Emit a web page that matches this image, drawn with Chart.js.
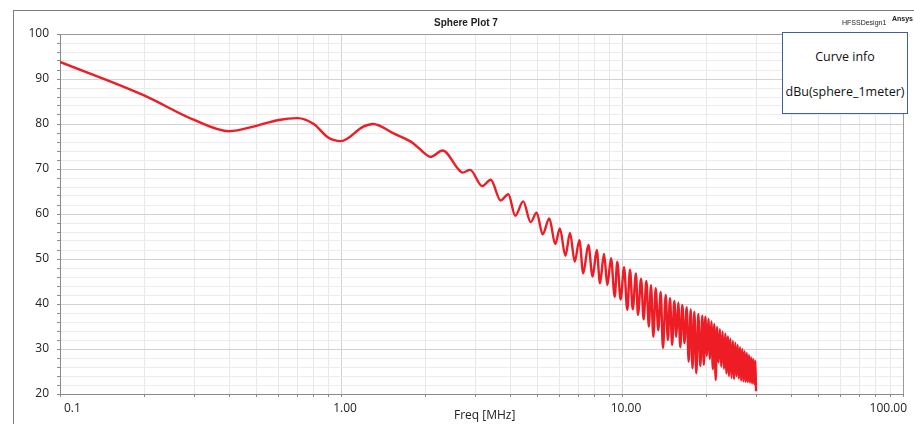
<!DOCTYPE html>
<html>
<head>
<meta charset="utf-8">
<script src="https://cdn.jsdelivr.net/npm/chart.js@4"></script>
<style>
  html, body { margin: 0; padding: 0; background: #fff; overflow: hidden; }
  #wrap { position: relative; width: 914px; height: 424px; }
  #frame { position: absolute; left: 13px; top: 10px; width: 920px; height: 430px;
           border-top: 1px solid #7f7f7f; border-left: 1px solid #7f7f7f; }
  canvas { position: absolute; left: 0; top: 0; }
  .txt { position: absolute; white-space: nowrap; color: #222; }
  #legendBox { position: absolute; left: 782px; top: 32px; width: 124px; height: 80px;
               border: 1px solid #3f5f9f; background: #fff; font-family: "Open Sans", sans-serif;
               font-size: 12.5px; color: #111; text-align: center; }
</style>
</head>
<body>
<div id="wrap">
  <div id="frame"></div>
  <canvas id="chart" width="914" height="424"></canvas>
  <div class="txt" style="left:434px; top:17px; font:bold 10px 'Liberation Sans', Arial, sans-serif;">Sphere Plot 7</div>
  <div class="txt" style="left:842px; top:19px; font:7px 'Liberation Sans', Arial, sans-serif;">HFSSDesign1</div>
  <div class="txt" style="left:892px; top:15px; font:bold 7px 'Liberation Sans', Arial, sans-serif;">Ansys</div>
  <div id="legendBox">
    <div style="position:absolute; left:0; right:0; top:15px;">Curve info</div>
    <div style="position:absolute; left:0; right:0; top:50px;">dBu(sphere_1meter)</div>
  </div>
  <div class="txt" style="left:454px; top:406px; font:12px 'Open Sans', sans-serif;">Freq [MHz]</div>
</div>
<script>
// === Data ===
const freqMHz = [
  0.1, 0.2, 0.3, 0.4, 0.5, 0.6, 0.7, 0.8, 0.9, 1.0,
  1.2, 1.3, 1.55, 1.8, 2.0, 2.08, 2.3, 2.62, 2.71, 2.88,
  3.18, 3.41, 3.70, 3.94, 4.17, 4.45, 4.73, 4.97, 5.22, 5.51,
  5.79, 6.01, 6.29, 6.53, 6.79, 7.05, 7.28, 7.59, 7.86, 8.13,
  8.35, 8.63, 8.87, 9.14, 9.42, 9.62, 9.89, 10.17, 10.44, 10.68,
  10.92, 11.21, 11.40, 11.69, 11.94, 12.21, 12.46, 12.68, 12.93, 13.18,
  13.46, 13.73, 13.99, 14.31, 14.56, 14.82, 15.08, 15.35, 15.60, 15.86,
  16.12, 16.39, 16.68, 16.99, 17.27, 17.56, 17.82, 18.09, 18.38, 18.69,
  19.00, 19.31, 19.55, 19.80, 20.05, 20.30, 20.55, 20.80, 21.05, 21.30,
  21.55, 21.80, 22.05, 22.30, 22.55, 22.80, 23.05, 23.30, 23.55, 23.80,
  24.05, 24.30, 24.55, 24.80, 25.05, 25.30, 25.55, 25.80, 26.05, 26.30,
  26.55, 26.80, 27.05, 27.30, 27.55, 27.80, 28.05, 28.30, 28.55, 28.80,
  29.05, 29.30, 29.55, 29.80, 30.00
];
const dBu = [
  93.8, 86.3, 80.9, 78.4, 79.6, 80.9, 81.3, 80.0, 77.0, 76.2,
  79.4, 80.0, 77.8, 75.8, 73.3, 72.7, 74.1, 69.9, 69.2, 69.8,
  66.2, 67.6, 63.0, 64.4, 59.6, 62.8, 58.2, 60.3, 55.5, 59.0,
  53.3, 56.8, 50.7, 55.8, 49.4, 54.2, 46.8, 53.1, 46.1, 52.0,
  44.6, 51.1, 44.2, 50.2, 41.6, 49.4, 41.0, 48.2, 38.7, 47.6,
  38.8, 46.8, 37.6, 45.6, 36.6, 45.1, 35.0, 44.2, 32.7, 43.5,
  34.2, 42.7, 30.2, 42.0, 32.0, 41.3, 30.9, 40.7, 32.7, 40.3,
  30.4, 39.8, 31.3, 39.3, 27.2, 38.8, 25.7, 38.3, 24.6, 37.8,
  26.2, 37.4, 26.5, 37.2, 28.5, 36.7, 27.8, 36.1, 25.5, 35.5,
  23.1, 34.9, 27.0, 34.4, 26.1, 33.9, 25.6, 33.4, 24.6, 32.8,
  24.0, 32.3, 23.6, 31.8, 23.3, 31.4, 24.0, 30.9, 23.4, 30.4,
  23.0, 30.0, 22.8, 29.5, 22.7, 29.1, 22.6, 28.7, 22.5, 28.2,
  22.3, 27.8, 22.2, 27.4, 20.6
];

// x grid positions and labelled ticks
const xGrid = [
  0.1, 0.2, 0.3, 0.4, 0.5, 0.6, 0.7, 0.8, 0.9,
  1, 2, 3, 4, 5, 6, 7, 8, 9,
  10, 20, 30, 40, 50, 60, 70, 80, 90, 100
];
const xLabels = { 0.1: "0.1", 1: "1.00", 10: "10.00", 100: "100.00" };
const yLabelStep = 10;

const points = freqMHz.map((f, i) => ({ x: f, y: dBu[i] }));

const tickFont = { family: "'Open Sans', sans-serif", size: 12 };

new Chart(document.getElementById("chart"), {
  type: "line",
  data: {
    datasets: [
      {
        label: "dBu(sphere_1meter)",
        data: points,
        borderColor: "#ee1c25",
        borderWidth: 2.4,
        pointRadius: 0,
        cubicInterpolationMode: "monotone",
        fill: false,
      },
    ],
  },
  options: {
    responsive: false,
    animation: false,
    layout: { padding: { left: 0, top: 34, right: 11, bottom: 0 } },
    plugins: { legend: { display: false }, tooltip: { enabled: false } },
    scales: {
      x: {
        type: "logarithmic",
        min: 0.1,
        max: 100,
        afterBuildTicks: (scale) => {
          scale.ticks = xGrid.map((v) => ({ value: v, major: v in xLabels }));
        },
        afterFit: (scale) => { scale.height = 30; },
        ticks: {
          autoSkip: false,
          maxRotation: 0,
          align: "inner",
          labelOffset: 4,
          padding: 4,
          color: "#222",
          font: tickFont,
          callback: (v) => xLabels[v] || "",
        },
        grid: {
          color: (ctx) => {
            const v = ctx.tick && ctx.tick.value;
            if (v === 100) return "#9a9a9a";
            return xLabels[v] ? "#d2d2d2" : "#e8e8e8";
          },
          tickColor: "#8a8a8a",
          tickLength: 3,
          lineWidth: 1,
        },
        border: { color: "#8a8a8a", width: 1 },
      },
      y: {
        min: 20,
        max: 100,
        afterFit: (scale) => { scale.width = 60; },
        ticks: {
          stepSize: 2,
          autoSkip: false,
          padding: 8,
          color: "#222",
          font: tickFont,
          callback: (v) => (v % yLabelStep === 0 ? String(v) : ""),
        },
        grid: {
          color: (ctx) => {
            const v = ctx.tick && ctx.tick.value;
            if (v === 100) return "#9a9a9a";
            return v % yLabelStep === 0 ? "#d2d2d2" : "#ececec";
          },
          tickColor: "#8a8a8a",
          tickLength: 3,
          lineWidth: 1,
        },
        border: { color: "#8a8a8a", width: 1 },
      },
    },
  },
});
</script>
</body>
</html>
